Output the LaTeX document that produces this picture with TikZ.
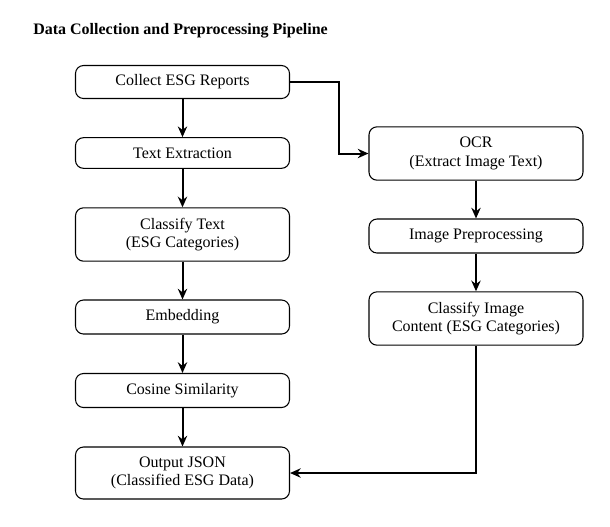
\documentclass[tikz,border=0pt]{standalone}
\usepackage{fontspec}
\setmainfont{Liberation Serif}
\usetikzlibrary{arrows.meta}
\tikzset{
    stage/.style={draw, line width=0.8pt, rounded corners=6pt, align=center, minimum width=160.5pt, inner sep=0pt, font=\fontsize{12pt}{14pt}\selectfont},
    flow/.style={line width=1.5pt, -{Stealth[length=8pt,width=7pt]}}
}
\begin{document}
\begin{tikzpicture}[x=0.75pt,y=-0.75pt]
            \useasboundingbox (0,0) rectangle (610,526);
            \node[anchor=west, inner sep=0pt, font=\fontsize{12pt}{14pt}\selectfont\bfseries] (title) at (33,31) {Data Collection and Preprocessing Pipeline};
            % left column
            \node[stage, minimum height=24.75pt] (collect) at (182.5,82) {Collect ESG Reports};
            \node[stage, minimum height=23pt] (extract) at (182.5,153) {Text Extraction};
            \node[stage, minimum height=40pt] (classtext) at (182.5,234.5) {Classify Text\\(ESG Categories)};
            \node[stage, minimum height=25.5pt] (embed) at (182.5,317) {Embedding};
            \node[stage, minimum height=25.5pt] (cosine) at (182.5,390.5) {Cosine Similarity};
            \node[stage, minimum height=39pt] (output) at (182.5,473) {Output JSON\\(Classified ESG Data)};
            % right column
            \node[stage, minimum height=40pt] (ocr) at (476,153.5) {OCR\\(Extract Image Text)};
            \node[stage, minimum height=25.5pt] (imgprep) at (476,236) {Image Preprocessing};
            \node[stage, minimum height=40pt] (classimg) at (476,318.5) {Classify Image\\Content (ESG Categories)};
            % connectors
            \draw[flow] (collect) -- (extract);
            \draw[flow] (extract) -- (classtext);
            \draw[flow] (classtext) -- (embed);
            \draw[flow] (embed) -- (cosine);
            \draw[flow] (cosine) -- (output);
            \draw[flow] (collect.east) -- ++(49,0) |- (ocr.west);
            \draw[flow] (ocr) -- (imgprep);
            \draw[flow] (imgprep) -- (classimg);
            \draw[flow] (classimg.south) |- (output.east);
        \end{tikzpicture}
\end{document}
